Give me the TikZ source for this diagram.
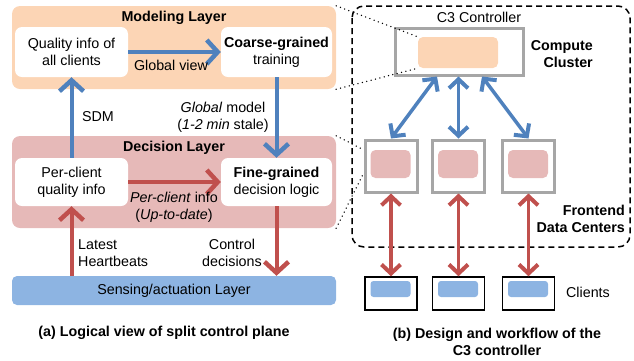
\documentclass[tikz,border=0pt]{standalone}
\usepackage{fontspec}
\setmainfont{Liberation Sans}
\usetikzlibrary{arrows.meta,calc}
\definecolor{peach}{HTML}{FCD5B5}
\definecolor{pinkL}{HTML}{E6B9B8}
\definecolor{blueL}{HTML}{8DB4E2}
\definecolor{arrB}{HTML}{4F81BD}
\definecolor{arrR}{HTML}{C0504D}
\definecolor{frameg}{HTML}{A6A6A6}
\begin{document}
\begin{tikzpicture}[x=1pt,y=-1pt,
  every node/.style={font=\fontsize{14.3}{17}\selectfont},
  layer/.style={rectangle, rounded corners=8pt, inner sep=0},
  wbox/.style={rectangle, rounded corners=7pt, fill=white, align=center, inner sep=0},
  lbl/.style={inner sep=0, align=center},
  ttl/.style={inner sep=0, font=\fontsize{14.3}{17}\selectfont\bfseries},
  bigtip/.tip={Straight Barb[length=11pt,width=24pt,line width=4.5pt]},
  smalltip/.tip={Straight Barb[length=9pt,width=19pt,line width=4pt]},
  barrow/.style={draw=arrB, line width=4pt, -bigtip},
  rarrow/.style={draw=arrR, line width=4pt, -bigtip},
  bdbl/.style={draw=arrB, line width=3.5pt, smalltip-smalltip},
  rdbl/.style={draw=arrR, line width=3.5pt, smalltip-smalltip},
  grayframe/.style={rectangle, draw=frameg, line width=3pt, inner sep=0},
  blackframe/.style={rectangle, draw=black, line width=1.5pt, inner sep=0},
  inbox/.style={rectangle, rounded corners=5pt, inner sep=0},
  dotline/.style={line width=1.5pt, dash pattern=on 0pt off 4.5pt, line cap=round},
]
\useasboundingbox (0,0) rectangle (634,360);

% ---------- left part ----------
\node[layer, fill=peach, minimum width=324pt, minimum height=83pt] (modeling) at (174,47.5) {};
\node[layer, fill=pinkL, minimum width=324pt, minimum height=92pt] (decision) at (174,182) {};
\node[layer, fill=blueL, minimum width=324pt, minimum height=29pt, rounded corners=5pt] (sensing) at (174,290.5) {Sensing/actuation Layer};

\node[ttl] (modtitle) at (174,18) {Modeling Layer};
\node[ttl] (dectitle) at (174,148) {Decision Layer};

\node[wbox, minimum width=113pt, minimum height=50pt] (quality) at (71.5,52) {Quality info of\\all clients};
\node[wbox, minimum width=111pt, minimum height=50pt] (coarse) at (276.5,52) {\textbf{Coarse-grained}\\training};
\node[wbox, minimum width=113pt, minimum height=48pt] (perclient) at (71.5,182) {Per-client\\quality info};
\node[wbox, minimum width=111pt, minimum height=48pt] (fine) at (276.5,182) {\textbf{Fine-grained}\\decision logic};

\draw[barrow] (quality.east) -- (coarse.west);
\node[lbl] (gview) at (171,65) {Global view};
\draw[rarrow] (perclient.east) -- (fine.west);
\node[lbl] (pcinfo) at (174,207.5) {\textit{Per-client} info\\(\textit{Up-to-date})};

\draw[barrow] (perclient.north) -- (quality.south);
\node[lbl] (sdm) at (98,117) {SDM};
\draw[barrow] (coarse.south) -- (fine.north);
\node[lbl] (gmodel) at (223,117) {\textit{Global} model\\(\textit{1-2 min} stale)};

\draw[rarrow] (perclient.south |- sensing.north) -- (perclient.south);
\node[lbl, anchor=west, align=left] (hb) at (78,253) {Latest\\Heartbeats};
\draw[rarrow] (fine.south) -- (fine.south |- sensing.north);
\node[lbl] (ctrl) at (232,253) {Control\\decisions};

\node[ttl] (capa) at (164,333) {(a) Logical view of split control plane};

% ---------- right part ----------
\draw[line width=1.5pt, dash pattern=on 6pt off 4pt, rounded corners=12pt] (352,6) rectangle (630,247);

\node[lbl] (c3) at (479,17) {C3 Controller};
\node[inbox, fill=peach, minimum width=80pt, minimum height=31pt] (cpeach) at (458,52.5) {};
\node[grayframe, minimum width=128pt, minimum height=47pt] (cbox) at (459,51.5) {};
\node[ttl, align=right, anchor=east] (compute) at (593,54) {Compute\\Cluster};

\foreach \i/\x in {1/391,2/458.5,3/528.5}{
  \node[inbox, fill=pinkL, minimum width=40pt, minimum height=28pt] (fp\i) at (\x-0.5,164) {};
  \node[grayframe, minimum width=52pt, minimum height=52pt] (fe\i) at (\x,166) {};
  \node[inbox, fill=blueL, minimum width=40pt, minimum height=16pt, rounded corners=3pt] (cb\i) at (\x-0.5,289) {};
  \node[blackframe, minimum width=52pt, minimum height=33pt] (cl\i) at (\x,293.5) {};
  \draw[rdbl] (fe\i.south) -- (cl\i.north);
}
\draw[bdbl] ([xshift=-22pt]cbox.south) -- (fe1.north);
\draw[bdbl] ([xshift=-0.5pt]cbox.south) -- (fe2.north);
\draw[bdbl] ([xshift=23pt]cbox.south) -- (fe3.north);

\node[lbl] (clients) at (588,292) {Clients};
\node[ttl, align=right, anchor=east] (frontend) at (625,218.5) {Frontend\\Data Centers};
\node[ttl, align=center] (capb) at (497,341.5) {(b) Design and workflow of the\\C3 controller};

% dotted zoom lines
\draw[dotline] (modeling.north east) -- (cpeach.north west);
\draw[dotline] (modeling.south east) -- (cpeach.south west);
\draw[dotline] (decision.north east) -- (fe1.west |- fp1.north);
\draw[dotline] (decision.south east) -- ([yshift=5pt]fe1.west |- fp1.south);
\end{tikzpicture}
\end{document}
